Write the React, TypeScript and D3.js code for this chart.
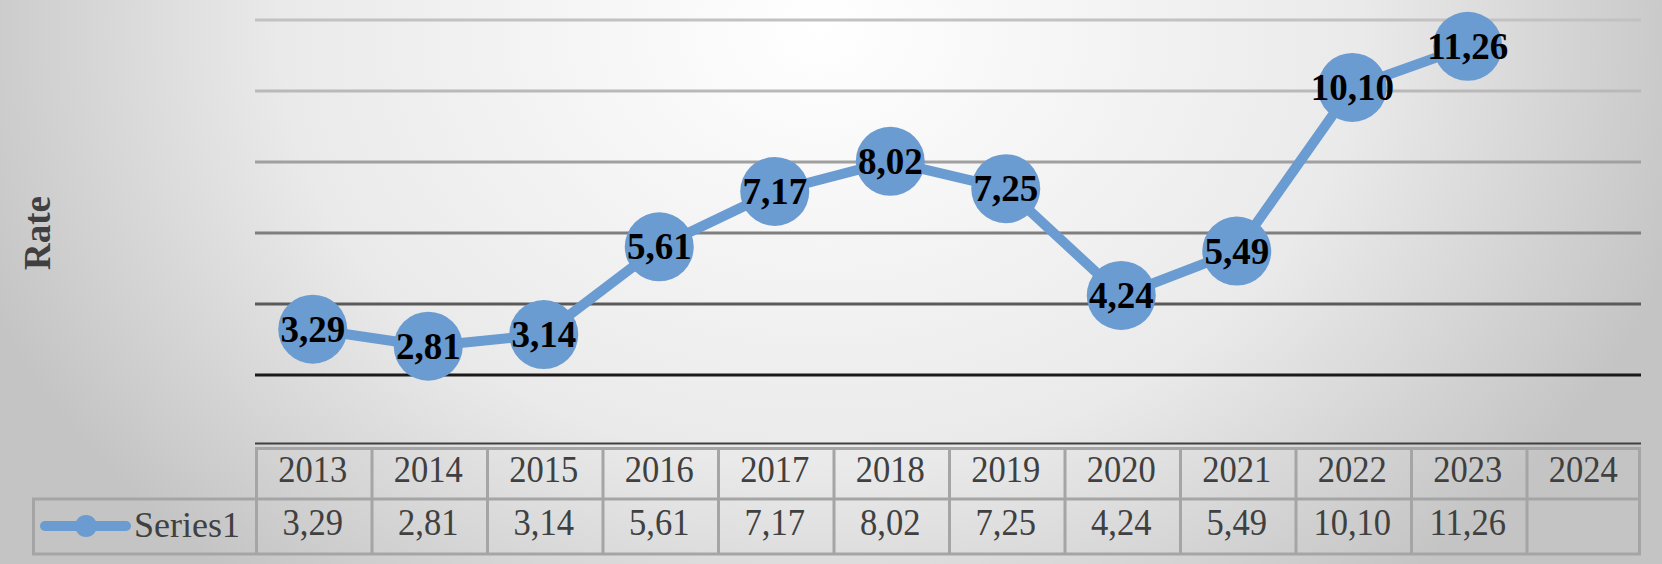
import React from "react";
import * as d3 from "d3";

const years = ["2013","2014","2015","2016","2017","2018","2019","2020","2021","2022","2023","2024"];
const values: (number | null)[] = [3.29, 2.81, 3.14, 5.61, 7.17, 8.02, 7.25, 4.24, 5.49, 10.10, 11.26, null];
const yTicks = [2, 4, 6, 8, 10, 12];
const gridColors = ["#1a1a1a", "#5a5a5a", "#7f7f7f", "#a0a0a0", "#b9b9b9", "#c2c2c2"];
const seriesName = "Series1";
const yTitle = "Rate";

const W = 1662, H = 564;
const fmt = (v: number) => v.toFixed(2).replace(".", ",");

export default function App() {
  const x = d3.scaleBand<string>().domain(years).range([255, 1641]).paddingInner(0).paddingOuter(0);
  const y = d3.scaleLinear().domain([0, 12]).range([446, 20]);
  const pts = years.map((yr, i) => ({ yr, v: values[i] })).filter(d => d.v != null) as { yr: string; v: number }[];
  const line = d3.line<{ yr: string; v: number }>()
    .x(d => (x(d.yr) as number) + x.bandwidth() / 2)
    .y(d => y(d.v));
  const serif = "'Liberation Serif', 'Times New Roman', serif";
  const blue = "#6a9bd1";
  const border = "#a5a5a5";
  const textCol = "#404040";
  const rowTop = 447, rowMid = 499, rowBot = 554, legendLeft = 32;
  const right = x.range()[1];

  return (
    <svg width={W} height={H} style={{ position: "absolute", left: 0, top: 0, display: "block" }}>
      <defs>
        <radialGradient id="bg" gradientUnits="userSpaceOnUse" cx={820} cy={30} r={900}
          gradientTransform="translate(820,30) scale(1,0.8) translate(-820,-30)">
          <stop offset="0" stopColor="#ffffff" />
          <stop offset="0.6" stopColor="#eaeaea" />
          <stop offset="1" stopColor="#c4c4c4" />
        </radialGradient>
      </defs>
      <rect x={0} y={0} width={W} height={H} fill="url(#bg)" />

      {yTicks.map((t, i) => (
        <line key={t} x1={255} x2={right} y1={y(t)} y2={y(t)} stroke={gridColors[i]} strokeWidth={3} />
      ))}

      <text transform={`translate(50,${(y(0) + y(12)) / 2}) rotate(-90)`} textAnchor="middle"
        fontFamily={serif} fontWeight="bold" fontSize={37} fill={textCol}>{yTitle}</text>

      {/* axis line */}
      <line x1={255} x2={right} y1={443.5} y2={443.5} stroke="#404040" strokeWidth={2} />

      {/* data table */}
      <g fill="none" stroke={border} strokeWidth={3}>
        <line x1={256.5} x2={right} y1={rowTop + 1.5} y2={rowTop + 1.5} />
        <line x1={legendLeft} x2={right} y1={rowMid} y2={rowMid} />
        <line x1={legendLeft} x2={right} y1={rowBot} y2={rowBot} />
        <line x1={legendLeft + 1.5} x2={legendLeft + 1.5} y1={rowMid} y2={rowBot} />
        {years.map(yr => (
          <line key={yr} x1={(x(yr) as number) + 1.5} x2={(x(yr) as number) + 1.5} y1={rowTop} y2={rowBot} />
        ))}
        <line x1={right - 1.5} x2={right - 1.5} y1={rowTop} y2={rowBot} />
      </g>
      {years.map((yr, i) => {
        const cx = (x(yr) as number) + x.bandwidth() / 2;
        return (
          <g key={yr} fontFamily={serif} fontSize={36} fill={textCol} textAnchor="middle">
            <text transform={`translate(${cx},482) scale(0.96,1.03)`}>{yr}</text>
            {values[i] != null && (
              <text transform={`translate(${cx},535) scale(0.96,1.03)`}>{fmt(values[i] as number)}</text>
            )}
          </g>
        );
      })}
      <line x1={45} x2={126} y1={526} y2={526} stroke={blue} strokeWidth={10} strokeLinecap="round" />
      <circle cx={86} cy={526} r={11} fill={blue} />
      <text x={134} y={537} fontFamily={serif} fontSize={36} fill={textCol}>{seriesName}</text>

      {/* series */}
      <path d={line(pts) as string} fill="none" stroke={blue} strokeWidth={10} strokeLinejoin="round" />
      {pts.map(d => {
        const cx = (x(d.yr) as number) + x.bandwidth() / 2;
        return <circle key={d.yr} cx={cx} cy={y(d.v)} r={34.5} fill={blue} />;
      })}
      {pts.map(d => {
        const cx = (x(d.yr) as number) + x.bandwidth() / 2;
        return (
          <text key={d.yr} x={cx} y={y(d.v) + 12.5} textAnchor="middle" fontFamily={serif}
            fontWeight="bold" fontSize={37} fill="#000">{fmt(d.v)}</text>
        );
      })}
    </svg>
  );
}
